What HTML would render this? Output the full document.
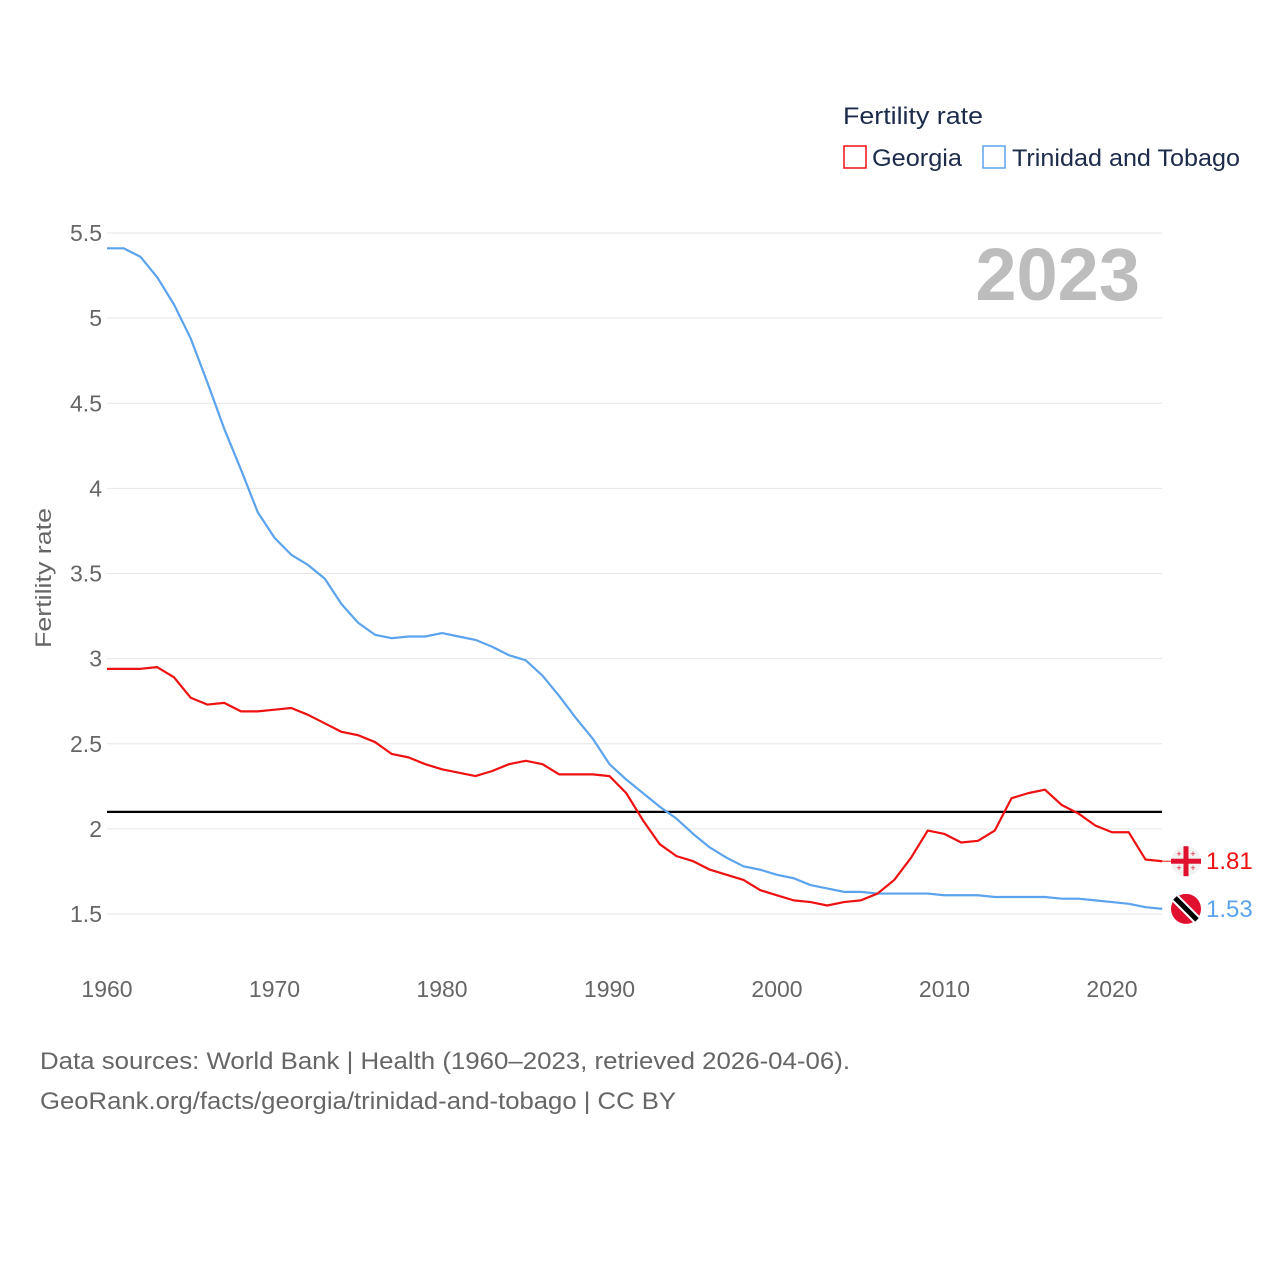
<!DOCTYPE html>
<html><head><meta charset="utf-8"><style>
body{margin:0;background:#fff;font-family:"Liberation Sans",sans-serif;}
svg text{font-family:"Liberation Sans",sans-serif;}
</style></head><body>
<svg width="1280" height="1280" id="chart">
<text x="843" y="124" font-size="24" fill="#1c2b4a" textLength="140" lengthAdjust="spacingAndGlyphs">Fertility rate</text>
<g><rect x="844" y="146" width="22" height="22" fill="none" stroke="#ee1111" stroke-width="1.5"/><text x="872" y="166" font-size="24" fill="#1c2b4a" textLength="90" lengthAdjust="spacingAndGlyphs">Georgia</text></g>
<g><rect x="983" y="146" width="22" height="22" fill="none" stroke="#5ba3ec" stroke-width="1.5"/><text x="1012" y="166" font-size="24" fill="#1c2b4a" textLength="228" lengthAdjust="spacingAndGlyphs">Trinidad and Tobago</text></g>
<text x="1140" y="300" font-size="74" font-weight="bold" fill="#bdbdbd" text-anchor="end">2023</text>
<text transform="translate(51,578) rotate(-90)" font-size="22" fill="#666" text-anchor="middle" textLength="140" lengthAdjust="spacingAndGlyphs">Fertility rate</text>
<g id="grid"></g><g id="lines"></g>
<text x="40" y="1069" font-size="24" fill="#666" textLength="810" lengthAdjust="spacingAndGlyphs">Data sources: World Bank | Health (1960–2023, retrieved 2026-04-06).</text>
<text x="40" y="1109" font-size="24" fill="#666" textLength="636" lengthAdjust="spacingAndGlyphs">GeoRank.org/facts/georgia/trinidad-and-tobago | CC BY</text>
</svg>
<script>
const years=[];for(let y=1960;y<=2023;y++)years.push(y);
const georgia=[2.94,2.94,2.94,2.95,2.89,2.77,2.73,2.74,2.69,2.69,2.70,2.71,2.67,2.62,2.57,2.55,2.51,2.44,2.42,2.38,2.35,2.33,2.31,2.34,2.38,2.40,2.38,2.32,2.32,2.32,2.31,2.21,2.05,1.91,1.84,1.81,1.76,1.73,1.70,1.64,1.61,1.58,1.57,1.55,1.57,1.58,1.62,1.70,1.83,1.99,1.97,1.92,1.93,1.99,2.18,2.21,2.23,2.14,2.09,2.02,1.98,1.98,1.82,1.81];
const trinidad=[5.41,5.41,5.36,5.24,5.08,4.88,4.62,4.35,4.11,3.86,3.71,3.61,3.55,3.47,3.32,3.21,3.14,3.12,3.13,3.13,3.15,3.13,3.11,3.07,3.02,2.99,2.90,2.78,2.65,2.53,2.38,2.29,2.21,2.13,2.06,1.97,1.89,1.83,1.78,1.76,1.73,1.71,1.67,1.65,1.63,1.63,1.62,1.62,1.62,1.62,1.61,1.61,1.61,1.60,1.60,1.60,1.60,1.59,1.59,1.58,1.57,1.56,1.54,1.53];
const yTicks=[1.5,2,2.5,3,3.5,4,4.5,5,5.5];
const yTickLabels=["1.5","2","2.5","3","3.5","4","4.5","5","5.5"];
const xTicks=[1960,1970,1980,1990,2000,2010,2020];
const refLine=2.1;
const NS="http://www.w3.org/2000/svg";
const X=y=>107+(y-1960)*(1005/60);
const Y=v=>233+(5.5-v)*170.25;
function mk(tag,attrs,parent){const e=document.createElementNS(NS,tag);for(const k in attrs)e.setAttribute(k,attrs[k]);parent.appendChild(e);return e;}
const grid=document.getElementById('grid'),lines=document.getElementById('lines');
yTicks.forEach((t,i)=>{
 const l=mk('line',{x1:107,x2:1162,y1:Y(t),y2:Y(t),stroke:'#e6e6e6','stroke-width':1},grid);
 
 
 const tx=mk('text',{x:102,y:Y(t)+8,'font-size':23,fill:'#666','text-anchor':'end'},grid);
 tx.textContent=yTickLabels[i];
 
 
});
xTicks.forEach(t=>{
 const tx=mk('text',{x:X(t),y:997,'font-size':23,fill:'#666','text-anchor':'middle'},grid);
 tx.textContent=String(t);
 
 
});
const rl=mk('line',{x1:107,x2:1162,y1:Y(refLine),y2:Y(refLine),stroke:'#000','stroke-width':2.2},lines);


function series(vals,color,name){
 const p=mk('polyline',{points:vals.map((v,i)=>X(years[i])+','+Y(v)).join(' '),fill:'none',stroke:color,'stroke-width':2.2,'stroke-linejoin':'round'},lines);
 
 
}
series(trinidad,'#5ba3ec','trinidad-line');
series(georgia,'#ee1111','georgia-line');
const lg=georgia[georgia.length-1],lt=trinidad[trinidad.length-1];
const gf=mk('g',{},lines);


const gy=Y(lg);
mk('line',{x1:X(2023),x2:1172,y1:gy,y2:gy,stroke:'#ee1111','stroke-width':1},gf);
mk('circle',{cx:1186,cy:gy,r:15,fill:'#f2f2f2'},gf);
mk('rect',{x:1171,y:gy-2.5,width:30,height:5,fill:'#e0102f'},gf);
mk('rect',{x:1183.5,y:gy-15,width:5,height:30,fill:'#e0102f'},gf);
[[-7,-7],[7,-7],[-7,7],[7,7]].forEach(d=>{mk('text',{x:1186+d[0],y:gy+d[1]+3,'font-size':9,fill:'#e0102f','text-anchor':'middle'},gf).textContent='+';});
const gl=mk('text',{x:1206,y:gy+8,'font-size':24,fill:'#ee1111'},lines);
gl.textContent=lg.toFixed(2);


const tf=mk('g',{},lines);


const ty=Y(lt);
mk('circle',{cx:1186,cy:ty,r:15,fill:'#e0102f'},tf);
mk('line',{x1:1175,y1:ty-11,x2:1197,y2:ty+11,stroke:'#fff','stroke-width':9},tf);
mk('line',{x1:1175,y1:ty-11,x2:1197,y2:ty+11,stroke:'#000','stroke-width':5},tf);
const tl=mk('text',{x:1206,y:ty+8,'font-size':24,fill:'#5ba3ec'},lines);
tl.textContent=lt.toFixed(2);


</script>
</body></html>
